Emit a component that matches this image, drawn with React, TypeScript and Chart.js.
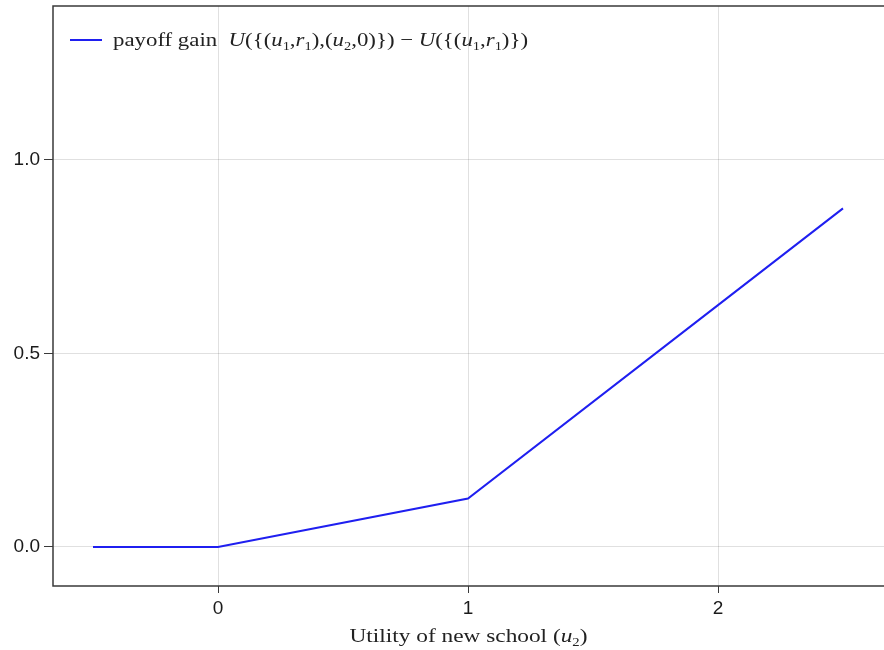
import React, { useEffect, useRef } from "react";
import { Chart, registerables } from "chart.js";

Chart.register(...registerables);

// ---- data ----
const xValues = [-0.5, 0, 1, 2, 2.5];
const yValues = [0, 0, 0.125, 0.625, 0.875];
const xTicks = [0, 1, 2];
const yTicks = [0, 0.5, 1.0];
const xRange = [-0.66, 2.664];
const yRange = [-0.101, 1.398];

type Tok = { t: string; s: "r" | "i" | "sub" };
const legendTokens: Tok[] = [
  { t: "payoff gain  ", s: "r" },
  { t: "U", s: "i" }, { t: "({(", s: "r" },
  { t: "u", s: "i" }, { t: "1", s: "sub" }, { t: ",", s: "r" },
  { t: "r", s: "i" }, { t: "1", s: "sub" }, { t: "),(", s: "r" },
  { t: "u", s: "i" }, { t: "2", s: "sub" }, { t: ",0)})", s: "r" },
  { t: " − ", s: "r" },
  { t: "U", s: "i" }, { t: "({(", s: "r" },
  { t: "u", s: "i" }, { t: "1", s: "sub" }, { t: ",", s: "r" },
  { t: "r", s: "i" }, { t: "1", s: "sub" }, { t: ")})", s: "r" },
];
const xTitleTokens: Tok[] = [
  { t: "Utility of new school (", s: "r" },
  { t: "u", s: "i" }, { t: "2", s: "sub" },
  { t: ")", s: "r" },
];

const SERIF = "'Liberation Serif', 'DejaVu Serif', serif";
const SANS = "'Liberation Sans', 'DejaVu Sans', sans-serif";
const LINE_COLOR = "#1f1ff0";

function fontFor(s: Tok["s"], size: number) {
  if (s === "i") return `italic ${size}px ${SERIF}`;
  if (s === "sub") return `${Math.round(size * 0.65)}px ${SERIF}`;
  return `${size}px ${SERIF}`;
}
function measureTokens(ctx: CanvasRenderingContext2D, toks: Tok[], size: number) {
  let w = 0;
  for (const k of toks) {
    ctx.font = fontFor(k.s, size);
    w += ctx.measureText(k.t).width;
  }
  return w;
}
function drawTokens(
  ctx: CanvasRenderingContext2D,
  toks: Tok[],
  x: number,
  y: number,
  size: number,
  targetW: number
) {
  const natural = measureTokens(ctx, toks, size);
  const sx = targetW / natural;
  ctx.save();
  ctx.translate(x, y);
  ctx.scale(sx, 1);
  ctx.textBaseline = "alphabetic";
  ctx.textAlign = "left";
  let cx = 0;
  for (const k of toks) {
    ctx.font = fontFor(k.s, size);
    const dy = k.s === "sub" ? size * 0.22 : 0;
    ctx.fillText(k.t, cx, dy);
    cx += ctx.measureText(k.t).width;
  }
  ctx.restore();
}

const decorPlugin = {
  id: "decor",
  afterDraw(chart: any) {
    const ctx: CanvasRenderingContext2D = chart.ctx;
    const a = chart.chartArea;
    ctx.save();
    // frame
    ctx.strokeStyle = "#3a3a3a";
    ctx.lineWidth = 1.5;
    ctx.beginPath();
    ctx.moveTo(a.right + 2, a.top);
    ctx.lineTo(a.left, a.top);
    ctx.lineTo(a.left, a.bottom);
    ctx.lineTo(a.right + 2, a.bottom);
    ctx.stroke();
    // legend
    ctx.strokeStyle = LINE_COLOR;
    ctx.lineWidth = 2;
    ctx.beginPath();
    ctx.moveTo(70, 40);
    ctx.lineTo(102, 40);
    ctx.stroke();
    ctx.fillStyle = "#222";
    drawTokens(ctx, legendTokens, 113, 46, 19, 415);
    // x title
    const tw = 238;
    const cx = (a.left + a.right) / 2;
    drawTokens(ctx, xTitleTokens, cx - tw / 2, 642, 19, tw);
    ctx.restore();
  },
};

export default function App() {
  const ref = useRef<HTMLCanvasElement | null>(null);
  useEffect(() => {
    if (!ref.current) return;
    const chart = new Chart(ref.current, {
      type: "line",
      data: {
        datasets: [
          {
            label: "payoff gain",
            data: xValues.map((x, i) => ({ x, y: yValues[i] })),
            borderColor: LINE_COLOR,
            borderWidth: 2,
            pointRadius: 0,
            fill: false,
            tension: 0,
          },
        ],
      },
      options: {
        responsive: false,
        animation: false,
        layout: { padding: { top: 6, left: 0, right: 0, bottom: 0 } },
        plugins: { legend: { display: false }, tooltip: { enabled: false } },
        scales: {
          x: {
            type: "linear",
            min: xRange[0],
            max: xRange[1],
            afterBuildTicks: (s: any) => {
              s.ticks = xTicks.map((v) => ({ value: v }));
            },
            afterFit: (s: any) => {
              s.height = 64;
              s.paddingLeft = 0;
              s.paddingRight = 0;
            },
            grid: {
              color: "rgba(0,0,0,0.12)",
              tickColor: "#3a3a3a",
              tickLength: 7,
              drawTicks: true,
            },
            border: { display: false },
            ticks: {
              color: "#1a1a1a",
              font: { family: SANS, size: 19 },
              padding: 4,
              maxRotation: 0,
              callback: (v: any) => String(v),
            },
          },
          y: {
            type: "linear",
            min: yRange[0],
            max: yRange[1],
            afterBuildTicks: (s: any) => {
              s.ticks = yTicks.map((v) => ({ value: v }));
            },
            afterFit: (s: any) => {
              s.width = 53;
              s.paddingTop = 0;
              s.paddingBottom = 0;
            },
            grid: {
              color: "rgba(0,0,0,0.12)",
              tickColor: "#3a3a3a",
              tickLength: 9,
            },
            border: { display: false },
            ticks: {
              color: "#1a1a1a",
              font: { family: SANS, size: 19 },
              padding: 4,
              callback: (v: any) => Number(v).toFixed(1),
            },
          },
        },
      },
      plugins: [decorPlugin],
    } as any);
    return () => chart.destroy();
  }, []);
  return (
    <div style={{ position: "absolute", left: 0, top: 0, width: 884, height: 650, background: "#fff" }}>
      <canvas ref={ref} width={884} height={650} style={{ width: 884, height: 650, display: "block" }} />
    </div>
  );
}
